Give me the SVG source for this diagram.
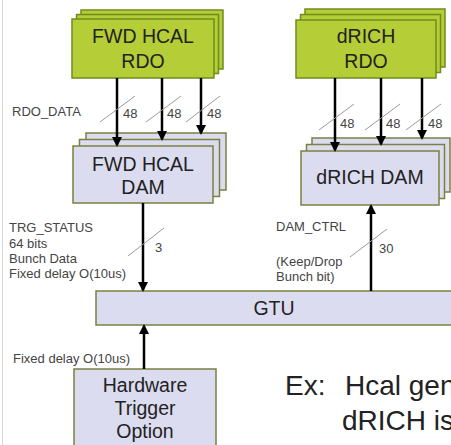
<svg xmlns="http://www.w3.org/2000/svg" width="451" height="445" viewBox="0 0 451 445">
<defs>
<style>
.rdo{fill:#b5cd36;stroke:#6f8c1c;stroke-width:1.5}
.dam{fill:#dcdcf0;stroke:#7b8040;stroke-width:1.5}
.big{font-family:"Liberation Sans",Arial,sans-serif;font-size:19.5px;fill:#222;text-anchor:middle}
.lbl{font-family:"Liberation Sans",Arial,sans-serif;font-size:13px;fill:#444}
.num{font-family:"Liberation Sans",Arial,sans-serif;font-size:13px;fill:#444}
.ex{font-family:"Liberation Sans",Arial,sans-serif;font-size:28px;fill:#222}
.wire{stroke:#000;stroke-width:2.5;fill:none}
.slash{stroke:#9a9a9a;stroke-width:1}
</style>
<marker id="ah" markerWidth="10" markerHeight="10" refX="8" refY="5" orient="auto" markerUnits="userSpaceOnUse">
<path d="M0,0 L10,5 L0,10 Z" fill="#000"/>
</marker>
</defs>
<rect x="0" y="0" width="451" height="445" fill="#fff"/>
<line x1="2.5" y1="0" x2="2.5" y2="445" stroke="#d8d8d8" stroke-width="1"/>

<g id="fwd-hcal-rdo">
<rect class="rdo" x="81" y="10" width="142" height="59"/>
<rect class="rdo" x="76.5" y="14.5" width="142" height="59"/>
<rect class="rdo" x="72" y="19" width="142" height="59"/>
<text class="big" x="143" y="43">FWD HCAL</text>
<text class="big" x="143" y="68">RDO</text>
</g>

<g id="drich-rdo">
<rect class="rdo" x="305" y="9" width="140" height="58"/>
<rect class="rdo" x="300.5" y="14.5" width="140" height="58"/>
<rect class="rdo" x="296" y="20" width="140" height="58"/>
<text class="big" x="366" y="43">dRICH</text>
<text class="big" x="366" y="68">RDO</text>
</g>

<g id="fwd-hcal-dam">
<rect class="dam" x="86" y="133" width="140" height="57"/>
<rect class="dam" x="79.5" y="139.5" width="140" height="57"/>
<rect class="dam" x="73" y="146" width="140" height="57"/>
<text class="big" x="143" y="171">FWD HCAL</text>
<text class="big" x="143" y="194">DAM</text>
</g>

<g id="drich-dam">
<rect class="dam" x="312" y="138" width="138" height="54"/>
<rect class="dam" x="306.5" y="144.5" width="138" height="54"/>
<rect class="dam" x="301" y="151" width="138" height="54"/>
<text class="big" x="370" y="184">dRICH DAM</text>
</g>

<g id="gtu">
<rect class="dam" x="96" y="291" width="360" height="34"/>
<text class="big" x="274" y="315">GTU</text>
</g>

<g id="hw-trigger">
<rect class="dam" x="74" y="369" width="142" height="80"/>
<text class="big" x="145" y="392">Hardware</text>
<text class="big" x="145" y="415">Trigger</text>
<text class="big" x="145" y="438">Option</text>
</g>

<g id="connectors">
<line class="wire" x1="117" y1="78" x2="117" y2="145" marker-end="url(#ah)"/>
<line class="wire" x1="162" y1="78" x2="162" y2="139" marker-end="url(#ah)"/>
<line class="wire" x1="201" y1="78" x2="201" y2="133" marker-end="url(#ah)"/>
<line class="slash" x1="100" y1="122" x2="135" y2="96"/>
<line class="slash" x1="146" y1="122" x2="181" y2="96"/>
<line class="slash" x1="186" y1="122" x2="220" y2="96"/>
<text class="num" x="123" y="118">48</text>
<text class="num" x="167" y="118">48</text>
<text class="num" x="207" y="118">48</text>

<line class="wire" x1="335" y1="78" x2="335" y2="150" marker-end="url(#ah)"/>
<line class="wire" x1="381" y1="78" x2="381" y2="144" marker-end="url(#ah)"/>
<line class="wire" x1="422" y1="78" x2="422" y2="138" marker-end="url(#ah)"/>
<line class="slash" x1="319" y1="130" x2="354" y2="104"/>
<line class="slash" x1="365" y1="130" x2="400" y2="104"/>
<line class="slash" x1="406" y1="130" x2="441" y2="104"/>
<text class="num" x="340" y="128">48</text>
<text class="num" x="386" y="128">48</text>
<text class="num" x="428" y="128">48</text>

<line class="wire" x1="143" y1="203" x2="143" y2="290" marker-end="url(#ah)"/>
<line class="slash" x1="128" y1="256" x2="164" y2="228"/>
<text class="num" x="155" y="252">3</text>

<line class="wire" x1="371" y1="291" x2="371" y2="206" marker-end="url(#ah)"/>
<line class="slash" x1="350" y1="257" x2="387" y2="229"/>
<text class="num" x="379" y="253">30</text>

<line class="wire" x1="144" y1="369" x2="144" y2="326" marker-end="url(#ah)"/>
</g>

<g id="labels">
<text class="lbl" x="12" y="116">RDO_DATA</text>
<text class="lbl" x="9" y="232">TRG_STATUS</text>
<text class="lbl" x="9" y="247.5">64 bits</text>
<text class="lbl" x="9" y="263">Bunch Data</text>
<text class="lbl" x="9" y="278">Fixed delay O(10us)</text>
<text class="lbl" x="276" y="231">DAM_CTRL</text>
<text class="lbl" x="276" y="266">(Keep/Drop</text>
<text class="lbl" x="276" y="281">Bunch bit)</text>
<text class="lbl" x="13" y="363">Fixed delay O(10us)</text>
<text class="ex" x="285" y="395">Ex:<tspan x="345">Hcal gen</tspan></text>
<text class="ex" x="342" y="430">dRICH is</text>
</g>
</svg>
